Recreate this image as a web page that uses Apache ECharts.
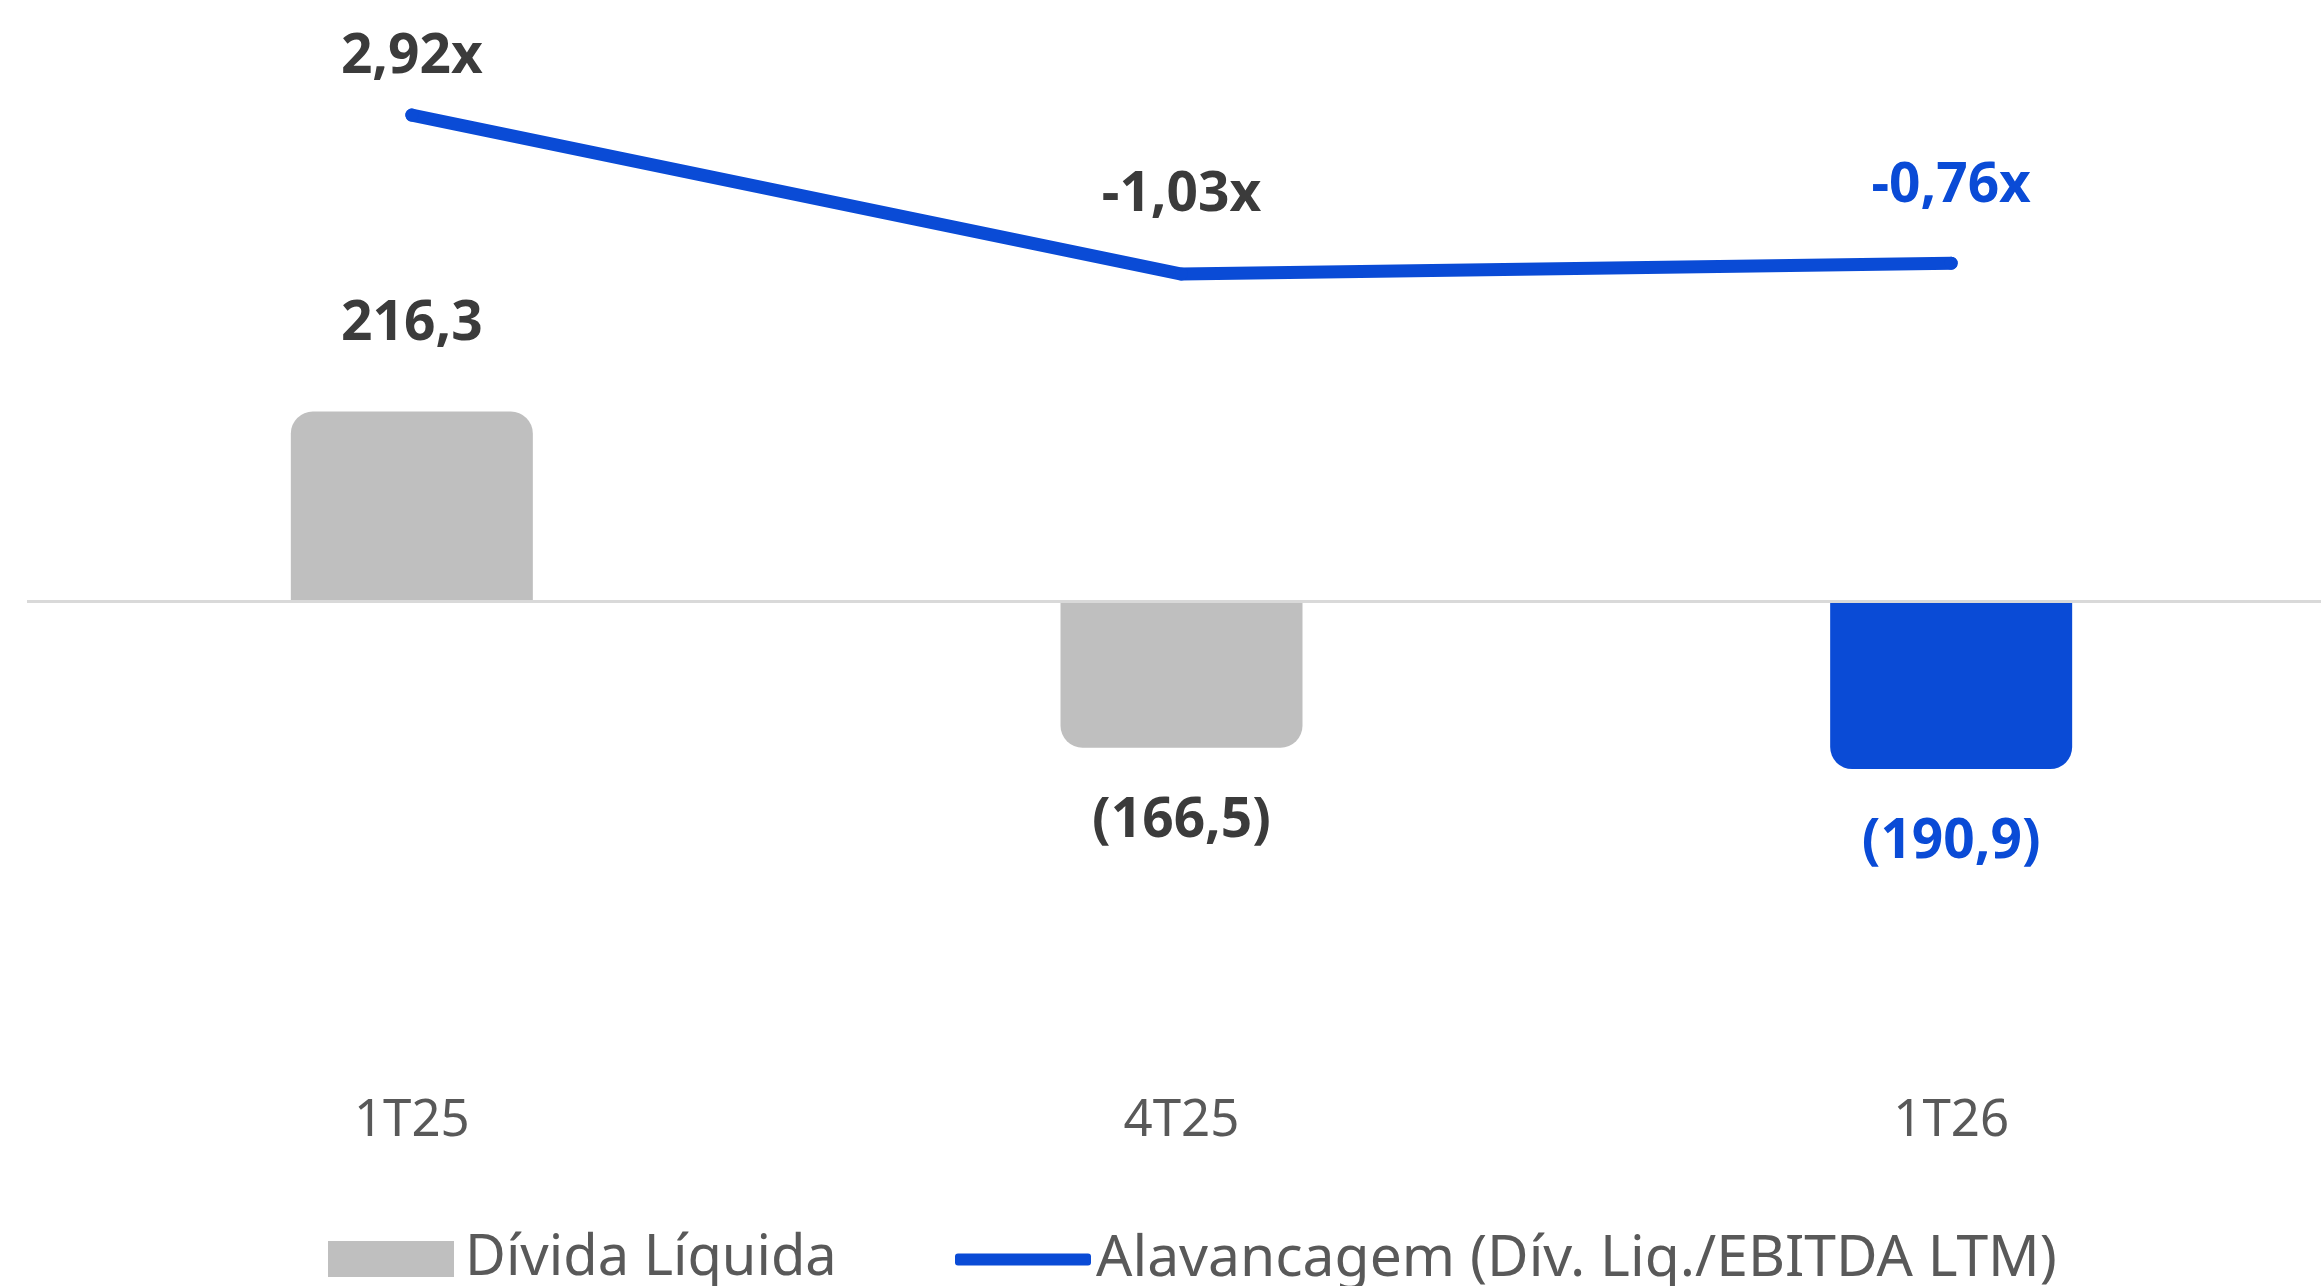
<!DOCTYPE html>
<html>
<head>
<meta charset="utf-8">
<script src="https://cdn.jsdelivr.net/npm/echarts@6/dist/echarts.min.js"></script>
<style>
  html, body { margin: 0; padding: 0; background: #fff; }
  #chart { width: 2321px; height: 1286px; }
</style>
</head>
<body>
<div id="chart"></div>
<script>
var chartDom = document.getElementById('chart');
var myChart = echarts.init(chartDom);

// dados
const quarters = ['1T25', '4T25', '1T26'];
const dividaLiquida = [216.3, -166.5, -190.9];
const alavancagem = [2.92, -1.03, -0.76];
const seriesNames = ['Dívida Líquida', 'Alavancagem (Dív. Liq./EBITDA LTM)'];

const GRAY = '#bfbfbf';
const BLUE = '#0a4bd6';
const DARK = '#3b3b3b';
const FONT = 'Noto Sans';

const fmtNum = (v) => v.toFixed(1).replace('.', ',');
const lastIdx = quarters.length - 1;
const lineLabelGap = [24, 45, 43];

const barData = dividaLiquida.map((v, i) => ({
  value: v,
  itemStyle: {
    color: i === lastIdx ? BLUE : GRAY,
    borderRadius: v >= 0 ? [22, 22, 0, 0] : [0, 0, 22, 22]
  },
  label: {
    position: v >= 0 ? 'top' : 'bottom',
    distance: v >= 0 ? 60 : 46,
    color: i === lastIdx ? BLUE : DARK
  }
}));

const lineData = alavancagem.map((v, i) => ({
  value: v,
  label: {
    distance: lineLabelGap[i],
    color: i === lastIdx ? BLUE : DARK
  }
}));

var option = {
  backgroundColor: '#fff',
  animation: false,
  textStyle: { fontFamily: FONT },
  grid: { left: 27, width: 2309, top: 0, height: 1080, outerBoundsMode: 'none' },
  legend: [
    {
      data: [seriesNames[0]],
      left: 323, top: 1226,
      icon: 'rect', itemWidth: 126, itemHeight: 36,
      textStyle: { fontSize: 56, color: '#595959', fontFamily: FONT, padding: [0, 0, 0, 6] }
    },
    {
      data: [seriesNames[1]],
      left: 950, top: 1226,
      icon: 'roundRect', itemWidth: 136, itemHeight: 12,
      itemStyle: { color: BLUE },
      textStyle: { fontSize: 57, color: '#595959', fontFamily: FONT, padding: [0, 0, 0, 0] }
    }
  ],
  xAxis: {
    type: 'category',
    data: quarters,
    position: 'bottom',
    axisLine: { show: false, onZero: false },
    axisTick: { show: false },
    axisLabel: { fontSize: 51, color: '#595959', margin: 16, fontFamily: FONT },
    splitLine: { show: false }
  },
  yAxis: [
    { type: 'value', min: -545, max: 685, show: false, splitLine: { show: false } },
    { type: 'value', min: -21.06, max: 5.78, show: false, splitLine: { show: false } }
  ],
  series: [
    {
      name: seriesNames[0],
      type: 'bar',
      barWidth: 242,
      itemStyle: { color: GRAY },
      data: barData,
      label: {
        show: true,
        fontSize: 55, fontWeight: 'bold', fontFamily: FONT,
        formatter: (p) => p.value >= 0 ? fmtNum(p.value) : '(' + fmtNum(-p.value) + ')'
      },
      markLine: {
        silent: true,
        symbol: 'none',
        lineStyle: { color: '#d9d9d9', width: 3, type: 'solid' },
        label: { show: false },
        data: [{ yAxis: 0 }]
      }
    },
    {
      name: seriesNames[1],
      type: 'line',
      yAxisIndex: 1,
      showSymbol: true,
      symbol: 'circle',
      symbolSize: 13,
      z: 5,
      lineStyle: { width: 13, color: BLUE, cap: 'round', join: 'round' },
      itemStyle: { color: BLUE },
      data: lineData,
      label: {
        show: true,
        position: 'top',
        fontSize: 55, fontWeight: 'bold', fontFamily: FONT,
        formatter: (p) => p.value.toFixed(2).replace('.', ',') + 'x'
      }
    }
  ]
};

option && myChart.setOption(option);

window.addEventListener('resize', function() {
  myChart.resize();
});
</script>
</body>
</html>
